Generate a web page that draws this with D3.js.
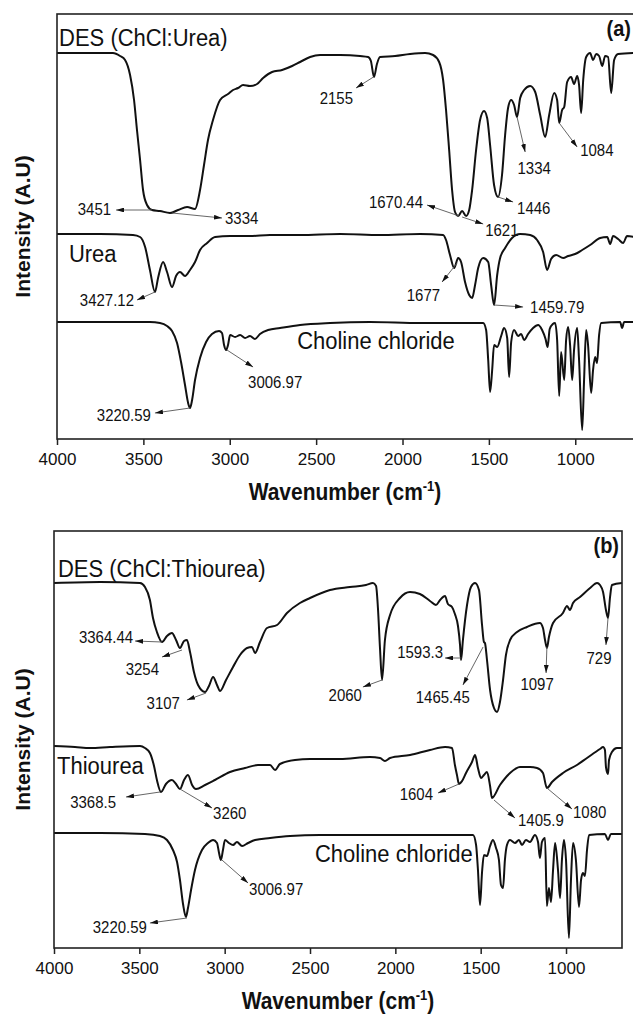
<!DOCTYPE html>
<html>
<head>
<meta charset="utf-8">
<script src="https://cdn.jsdelivr.net/npm/d3@7"></script>
<style>
  body { margin: 0; background: #fff; }
  svg { display: block; }
</style>
</head>
<body>
<div id="chart"></div>
<script>
// ---- data (wavenumber cm-1, intensity a.u.) ----
const wnTicks = [4000, 3500, 3000, 2500, 2000, 1500, 1000];

// panel (a)
const desUrea = [[4000,386],[3751,386],[3676,386],[3635,383],[3606,379],[3577,364],[3554,339],[3537,309],[3519,279],[3502,249],[3479,234],[3450,229],[3404,228],[3346,226],[3299,229],[3247,232],[3201,230],[3172,249],[3149,274],[3126,299],[3097,319],[3056,339],[3010,345],[2981,349],[2952,351],[2923,354],[2883,353],[2842,355],[2807,361],[2755,367],[2697,369],[2639,373],[2593,377],[2535,382],[2477,384],[2361,384],[2246,383],[2199,382],[2183,378],[2165,362],[2148,375],[2130,382],[2043,383],[1956,385],[1869,386],[1823,384],[1788,377],[1765,359],[1748,329],[1730,289],[1713,249],[1696,227],[1678,223],[1655,228],[1632,223],[1614,229],[1597,249],[1574,289],[1551,319],[1528,328],[1510,321],[1493,294],[1470,254],[1447,242],[1424,264],[1406,304],[1389,331],[1371,339],[1354,334],[1337,322],[1319,341],[1296,349],[1261,353],[1232,347],[1203,324],[1174,302],[1151,324],[1122,346],[1105,339],[1093,316],[1076,329],[1064,332],[1047,357],[1024,362],[1007,355],[989,363],[978,354],[966,326],[954,359],[937,382],[914,386],[897,379],[879,385],[862,383],[844,373],[827,383],[810,382],[792,346],[775,379],[752,385],[660,386]];
const urea = [[4000,205],[3751,205],[3560,204],[3519,202],[3490,192],[3462,169],[3433,147],[3415,161],[3386,177],[3363,167],[3334,152],[3311,163],[3288,167],[3259,163],[3230,169],[3201,177],[3172,189],[3131,196],[3085,202],[2998,203],[2883,203],[2767,204],[2593,204],[2361,205],[2130,204],[1898,205],[1765,204],[1748,199],[1725,184],[1701,171],[1678,181],[1661,177],[1638,157],[1614,144],[1597,141],[1580,154],[1562,171],[1533,181],[1504,177],[1487,154],[1470,134],[1452,164],[1435,181],[1406,191],[1366,201],[1319,205],[1261,204],[1221,199],[1186,187],[1163,169],[1140,180],[1111,184],[1070,181],[1041,183],[1001,185],[960,189],[914,194],[856,201],[815,202],[798,195],[781,203],[752,200],[723,196],[700,203],[660,202]];
const cholineA = [[4000,117],[3751,117],[3462,117],[3404,116],[3363,113],[3334,108],[3305,96],[3282,77],[3259,54],[3241,36],[3230,31],[3218,39],[3201,59],[3172,81],[3137,97],[3103,105],[3062,108],[3045,106],[3033,94],[3021,89],[3010,94],[2998,104],[2969,102],[2940,104],[2911,101],[2883,103],[2854,100],[2825,105],[2778,109],[2709,111],[2593,114],[2419,116],[2188,117],[1898,116],[1533,116],[1516,109],[1504,79],[1493,47],[1481,69],[1470,94],[1452,92],[1429,103],[1412,111],[1394,101],[1383,62],[1371,97],[1354,109],[1331,103],[1313,105],[1296,99],[1273,105],[1244,111],[1215,114],[1192,109],[1172,100],[1160,92],[1148,110],[1130,115],[1117,116],[1105,99],[1093,43],[1082,87],[1064,59],[1053,99],[1041,112],[1030,94],[1018,59],[1007,89],[989,111],[978,79],[960,9],[949,59],[937,109],[926,94],[908,46],[897,69],[885,82],[874,76],[862,104],[850,116],[740,117],[729,111],[717,117],[660,117]];

// panel (b)
const desThiourea = [[4000,365],[3730,366],[3496,365],[3467,361],[3438,348],[3420,330],[3397,316],[3367,306],[3338,312],[3309,315],[3285,308],[3262,300],[3238,307],[3221,308],[3203,296],[3180,276],[3156,263],[3115,256],[3092,262],[3068,271],[3045,263],[3027,257],[2992,268],[2951,281],[2910,293],[2869,300],[2840,301],[2822,295],[2793,306],[2752,320],[2693,323],[2635,335],[2559,345],[2500,350],[2383,358],[2266,361],[2172,363],[2131,365],[2113,362],[2102,340],[2090,300],[2078,268],[2061,308],[2031,333],[1973,350],[1914,356],[1856,354],[1797,347],[1762,343],[1738,348],[1709,352],[1692,344],[1668,341],[1651,334],[1633,322],[1621,303],[1615,288],[1604,308],[1580,343],[1557,361],[1533,365],[1510,358],[1492,323],[1481,306],[1475,305],[1463,288],[1445,258],[1422,240],[1404,236],[1387,246],[1369,268],[1352,293],[1328,308],[1287,316],[1229,321],[1153,325],[1135,320],[1123,308],[1112,300],[1100,311],[1076,325],[1018,335],[994,342],[977,338],[959,345],[918,351],[859,360],[818,365],[801,363],[783,356],[766,338],[754,330],[742,351],[731,363],[672,365]];
const thiourea = [[4000,202],[3877,201],[3789,200],[3672,201],[3496,202],[3467,200],[3438,195],[3414,182],[3397,168],[3373,156],[3344,164],[3309,168],[3285,164],[3262,159],[3238,168],[3215,173],[3191,163],[3168,159],[3115,163],[3057,168],[2969,176],[2881,180],[2805,183],[2734,183],[2705,178],[2676,184],[2588,188],[2500,189],[2324,189],[2149,191],[2090,190],[2061,187],[2031,190],[1914,193],[1797,198],[1709,201],[1668,200],[1651,183],[1639,173],[1627,164],[1609,167],[1586,175],[1551,186],[1533,193],[1516,180],[1498,170],[1481,173],[1463,176],[1445,162],[1434,150],[1387,163],[1328,175],[1270,181],[1211,181],[1170,180],[1135,175],[1112,160],[1082,166],[1018,175],[936,183],[877,190],[801,199],[783,201],[772,198],[766,181],[754,174],[748,188],[731,196],[702,200],[672,200]];
const cholineB = [[4000,115],[3730,115],[3467,114],[3379,112],[3338,108],[3303,98],[3279,86],[3262,68],[3244,44],[3227,31],[3215,40],[3197,58],[3174,78],[3133,98],[3098,105],[3068,108],[3045,105],[3033,95],[3022,88],[3010,98],[2998,108],[2975,105],[2951,103],[2928,106],[2898,102],[2863,105],[2822,108],[2734,110],[2617,112],[2442,113],[1973,113],[1545,113],[1527,103],[1516,78],[1504,43],[1492,76],[1481,93],[1463,92],[1445,102],[1428,108],[1410,100],[1393,88],[1381,63],[1369,60],[1358,88],[1346,103],[1328,108],[1299,105],[1276,108],[1258,103],[1235,108],[1211,106],[1182,113],[1164,106],[1153,90],[1141,106],[1123,110],[1112,42],[1100,60],[1088,46],[1076,78],[1064,105],[1047,78],[1035,50],[1024,88],[1012,108],[1000,88],[983,10],[971,68],[959,105],[942,88],[924,41],[912,68],[901,75],[889,72],[877,98],[865,113],[772,114],[754,108],[737,114],[672,114]];

// series names with where the name sits (wn, intensity)
const namesA = [["DES (ChCl:Urea)", 3988, 402], ["Urea", 3931, 186], ["Choline chloride", 2610, 99]];
const namesB = [["DES (ChCl:Thiourea)", 3977, 380], ["Thiourea", 3982, 183], ["Choline chloride", 2471, 95]];

// peak notes: text, arrow tail (wn, int), arrow head (wn, int)
const notesA = [
  ["3451", 3450, 229, 3658, 229],
  ["3334", 3334, 226, 3045, 221],
  ["2155", 2168, 362, 2269, 351],
  ["1670.44", 1672, 223, 1858, 234],
  ["1621", 1655, 222, 1533, 215],
  ["1446", 1447, 242, 1360, 237],
  ["1334", 1337, 322, 1290, 287],
  ["1084", 1093, 316, 989, 292],
  ["3427.12", 3433, 147, 3537, 139],
  ["1677", 1684, 176, 1771, 157],
  ["1459.79", 1470, 134, 1302, 132],
  ["3006.97", 3016, 89, 2865, 72],
  ["3220.59", 3230, 31, 3433, 26]
];
const notesB = [
  ["3364.44", 3367, 306, 3525, 307],
  ["3254", 3250, 298, 3367, 291],
  ["3107", 3109, 255, 3221, 248],
  ["2060", 2078, 268, 2190, 261],
  ["1593.3", 1612, 290, 1709, 290],
  ["1465.45", 1486, 301, 1604, 263],
  ["1097", 1112, 301, 1117, 275],
  ["729", 754, 330, 766, 303],
  ["3368.5", 3379, 156, 3578, 151],
  ["3260", 3262, 159, 3074, 140],
  ["1604", 1627, 164, 1750, 155],
  ["1405.9", 1422, 148, 1299, 130],
  ["1080", 1112, 160, 965, 139],
  ["3006.97", 3016, 88, 2863, 65],
  ["3220.59", 3221, 30, 3438, 25]
];

// ---- layout ----
const W = 633, H = 1015;
const SY = 1.12; // glyphs in the source are slightly tall
const FONT = '"Liberation Sans", Arial, Helvetica, sans-serif';

// label offsets from arrow head: dx, dy, anchor
const notePlaceA = [[-5,-1,"end"],[3,0,"start"],[-3,10,"end"],[-4,-3,"end"],[2,6,"start"],[4,6,"start"],[9,16,"middle"],[3,3,"start"],[-3,0,"end"],[-2,13,"end"],[7,0,"start"],[-5,15,"start"],[-4,2,"end"]];
const notePlaceB = [[-2,-4,"end"],[-3,12,"end"],[-7,3,"end"],[-1,8,"end"],[-2,-6,"end"],[7,12,"end"],[-9,11,"middle"],[-7,13,"middle"],[-10,5,"end"],[1,5,"start"],[-5,1,"end"],[3,2,"start"],[1,3,"start"],[1,6,"start"],[-3,4,"end"]];

const svg = d3.select("#chart").append("svg")
  .attr("width", W).attr("height", H)
  .style("font-family", FONT);

svg.append("defs").append("marker")
  .attr("id", "arrow")
  .attr("viewBox", "0 0 10 6")
  .attr("refX", 10).attr("refY", 3)
  .attr("markerWidth", 8).attr("markerHeight", 4.8)
  .attr("markerUnits", "userSpaceOnUse")
  .attr("orient", "auto")
  .append("path").attr("d", "M0,0 L10,3 L0,6 z").attr("fill", "#111");

function addText(g, x, y, txt, size, anchor, weight) {
  return g.append("text")
    .attr("transform", "translate(" + x + "," + y + ") scale(1," + SY + ")")
    .attr("dy", "0.35em")
    .attr("text-anchor", anchor || "start")
    .attr("font-size", size)
    .attr("font-weight", weight || "normal")
    .attr("fill", "#111")
    .text(txt);
}

function drawPanel(p) {
  const x = d3.scaleLinear().domain(p.xDomain).range([p.left, p.right]);
  const y = d3.scaleLinear().domain(p.yDomain).range([p.bottom, p.top]);
  const g = svg.append("g");

  const line = d3.line()
    .x(d => x(d[0]))
    .y(d => y(d[1]))
    .curve(d3.curveMonotoneX);

  p.series.forEach(s => {
    g.append("path").datum(s)
      .attr("d", line)
      .attr("fill", "none")
      .attr("stroke", "#111")
      .attr("stroke-width", 2)
      .attr("stroke-linejoin", "round");
  });

  // bottom axis, ticks pointing out
  const ax = g.append("g")
    .attr("transform", "translate(0," + p.bottom + ")")
    .call(d3.axisBottom(x).tickValues(wnTicks).tickSize(6).tickPadding(8).tickFormat(d3.format("d")));
  ax.select(".domain").remove();
  ax.selectAll(".tick line").attr("stroke", "#222").attr("stroke-width", 1.5);
  ax.selectAll(".tick text").attr("font-size", 17).attr("font-family", FONT).attr("fill", "#111");

  // frame
  g.append("rect")
    .attr("x", p.left).attr("y", p.top)
    .attr("width", p.right - p.left).attr("height", p.bottom - p.top)
    .attr("fill", "none").attr("stroke", "#222").attr("stroke-width", 1.6);

  // series names
  p.names.forEach(n => addText(g, x(n[1]), y(n[2]), n[0], 22, "start"));

  // peak notes
  p.notes.forEach((n, i) => {
    const pl = p.place[i];
    const hx = x(n[3]), hy = y(n[4]);
    g.append("line")
      .attr("x1", x(n[1])).attr("y1", y(n[2]))
      .attr("x2", hx).attr("y2", hy)
      .attr("stroke", "#555").attr("stroke-width", 0.9)
      .attr("marker-end", "url(#arrow)");
    addText(g, hx + pl[0], hy + pl[1], n[0], 15, pl[2]);
  });

  // panel tag
  addText(g, p.right - 3, p.top + 14, p.tag, 20, "end", "bold");

  // y title
  g.append("text")
    .attr("transform", "translate(30," + (p.top + p.bottom) / 2 + ") rotate(-90)")
    .attr("text-anchor", "middle")
    .attr("font-size", 21).attr("font-weight", "bold").attr("fill", "#111")
    .text("Intensity (A.U)");

  // x title
  const t = g.append("text")
    .attr("transform", "translate(" + p.titleX + "," + p.titleY + ") scale(1," + SY + ")")
    .attr("text-anchor", "middle")
    .attr("font-size", 21).attr("font-weight", "bold").attr("fill", "#111");
  t.append("tspan").text("Wavenumber (cm");
  t.append("tspan").attr("dy", -8).attr("font-size", 13).text("-1");
  t.append("tspan").attr("dy", 8).text(")");
}

drawPanel({
  xDomain: [4000, 660], yDomain: [0, 425],
  left: 57, right: 634, top: 14, bottom: 439,
  series: [desUrea, urea, cholineA],
  names: namesA, notes: notesA, place: notePlaceA,
  tag: "(a)", titleX: 345, titleY: 500
});

drawPanel({
  xDomain: [4000, 672], yDomain: [0, 417],
  left: 54, right: 622, top: 531, bottom: 948,
  series: [desThiourea, thiourea, cholineB],
  names: namesB, notes: notesB, place: notePlaceB,
  tag: "(b)", titleX: 338, titleY: 1009
});
</script>
</body>
</html>
